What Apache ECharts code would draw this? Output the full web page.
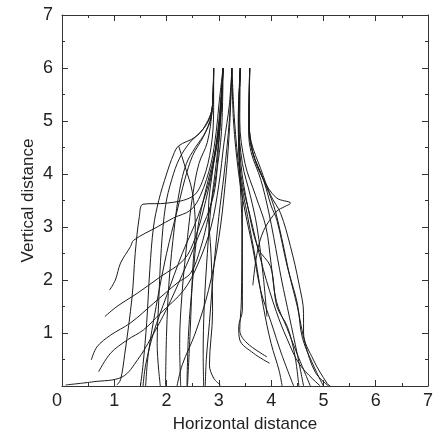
<!DOCTYPE html>
<html>
<head>
<meta charset="utf-8">
<script src="https://cdn.jsdelivr.net/npm/echarts@6/dist/echarts.min.js"></script>
<style>html,body{margin:0;padding:0;background:#fff}#c{width:435px;height:437px}</style>
</head>
<body>
<div id="c"></div>
<script>
// Axis settings (data units)
const xTicks = [0, 1, 2, 3, 4, 5, 6, 7];
const yTicks = [0, 1, 2, 3, 4, 5, 6, 7];
const xTitle = 'Horizontal distance';
const yTitle = 'Vertical distance';

// Traced curves: [horizontal, vertical] points
const c01 = [[3.08,6],[3.05,5.3],[3.0,4.6],[2.9,3.6],[2.6,2.8],[2.3,2.1],[2.0,1.45],[1.7,0.9],[1.45,0.5],[1.15,0.17],[0.6,0.08],[0.07,0.02]];
const c02 = [[3.08,6],[3.05,4.8],[2.95,4.0],[2.8,3.2],[2.65,2.6],[2.46,2.13],[2.2,1.94],[1.75,1.56],[1.31,1.19],[0.93,0.96],[0.67,0.74],[0.56,0.49]];
const c03 = [[3.25,6],[3.2,5.3],[3.1,4.6],[3.0,3.8],[2.85,3.0],[2.6,2.3],[2.33,1.81],[1.88,1.37],[1.56,1.06],[1.25,0.87],[0.93,0.62],[0.70,0.27]];
const c04 = [[3.08,6],[3.0,4.8],[2.9,4.2],[2.75,3.5],[2.55,2.8],[2.33,2.38],[1.88,2.06],[1.44,1.75],[1.05,1.50],[0.82,1.31]];
const c05 = [[3.08,6],[3.0,5.3],[2.95,4.8],[2.85,4.2],[2.65,3.6],[2.46,3.32],[2.13,3.17],[1.82,3.0],[1.37,2.75],[1.31,2.63],[1.12,2.32],[1.02,2.0],[0.91,1.81]];
const c06 = [[2.90,6],[2.9,5.2],[2.85,4.5],[2.7,3.9],[2.5,3.58],[2.0,3.45],[1.55,3.43],[1.48,3.2],[1.4,2.5],[1.34,1.68],[1.2,0.6],[1.12,0.12],[1.05,0.02]];
const c07 = [[2.90,6],[2.89,5.4],[2.8,5.0],[2.55,4.7],[2.23,4.53],[2.13,4.36],[2.0,4.0],[1.85,3.5],[1.75,3.0],[1.68,2.2],[1.62,1.2],[1.55,0.4],[1.5,0]];
const c08 = [[2.23,4.53],[2.35,4.15],[2.49,3.67],[2.55,3.0],[2.5,2.2],[2.45,1.0],[2.4,0]];
const c09 = [[2.90,6],[2.88,5.3],[2.7,4.85],[2.45,4.6],[2.25,4.3],[2.1,3.9],[1.98,3.4],[1.9,2.6],[1.85,1.6],[1.82,0.8],[1.88,0]];
const c10 = [[2.90,6],[2.87,5.2],[2.75,4.8],[2.55,4.5],[2.38,4.2],[2.25,3.7],[2.15,3.0],[2.05,2.0],[2.0,1.0],[1.98,0]];
const c11 = [[2.90,6],[2.87,5.2],[2.78,4.6],[2.62,4.2],[2.5,3.6],[2.4,2.8],[2.3,1.8],[2.25,0.8],[2.27,0]];
const c12 = [[3.08,6],[3.02,5.0],[2.9,4.3],[2.75,3.7],[2.6,3.0],[2.5,2.0],[2.42,1.0],[2.39,0]];
const c13 = [[3.08,6],[3.03,5.0],[2.95,4.2],[2.85,3.4],[2.78,2.5],[2.72,1.5],[2.7,0.6],[2.71,0]];
const c14 = [[3.08,6],[3.0,5.0],[2.9,4.2],[2.8,3.3],[2.85,2.5],[2.88,1.4],[2.82,0.4],[2.9,0.15],[3.03,0.02]];
const c15 = [[3.25,6],[3.2,5.0],[3.1,4.0],[3.0,3.2],[2.9,2.2],[2.82,1.2],[2.76,0.5],[2.74,0]];
const c16 = [[3.25,6],[3.2,4.8],[3.12,3.8],[3.0,2.8],[2.8,1.8],[2.55,1.0],[2.3,0.4],[2.2,0]];
const c17 = [[3.08,6],[3.0,4.9],[2.85,4.0],[2.6,3.2],[2.3,2.5],[2.0,1.7],[1.75,1.0],[1.6,0.4],[1.55,0]];
const c18 = [[2.90,6],[2.86,5.1],[2.7,4.7],[2.5,4.35],[2.35,3.9],[2.2,3.3],[2.0,2.5],[1.8,1.5],[1.65,0.6],[1.6,0]];
const r01 = [[3.41,6],[3.38,5.0],[3.4,4.0],[3.45,3.5],[3.45,2.5],[3.45,1.43],[3.38,1.12],[3.40,0.87],[3.66,0.62],[3.97,0.43]];
const r02 = [[3.41,6],[3.37,5.0],[3.4,4.0],[3.44,3.0],[3.43,1.6],[3.4,1.05],[3.54,0.81],[3.92,0.55]];
const r03 = [[3.41,6],[3.38,5.0],[3.45,4.2],[3.6,3.6],[3.73,3.0],[3.85,2.06],[3.92,1.31]];
const r04 = [[3.59,6],[3.58,5.0],[3.65,4.4],[3.85,3.9],[4.1,3.55],[4.37,3.45],[4.25,3.38],[4.11,3.3],[3.86,2.94],[3.73,2.5],[3.65,1.9]];
const r05 = [[3.59,6],[3.58,5.0],[3.62,4.6],[3.8,4.1],[3.99,3.6],[4.18,3.26],[4.37,2.63],[4.53,1.94],[4.62,1.37],[4.62,1.0],[4.81,0.49],[5.07,0.05],[5.13,0]];
const r06 = [[3.59,6],[3.57,4.9],[3.65,4.4],[3.85,3.9],[4.0,3.4],[4.11,3.13],[4.31,2.25],[4.5,1.56],[4.6,0.9],[4.85,0.3],[5.0,0]];
const r07 = [[3.59,6],[3.57,4.8],[3.62,4.4],[3.8,3.9],[3.95,3.3],[4.05,2.8],[4.2,2.0],[4.35,1.3],[4.5,0.6],[4.62,0]];
const r08 = [[3.41,6],[3.4,5.0],[3.5,4.2],[3.7,3.6],[3.9,3.0],[4.0,2.3],[4.1,1.6],[4.3,1.1],[4.5,0.6],[4.75,0]];
const r09 = [[3.41,6],[3.38,5.0],[3.42,4.2],[3.55,3.4],[3.75,2.6],[3.99,2.25],[4.11,1.5],[4.31,1.12],[4.45,0.6],[4.53,0]];
const r10 = [[3.25,6],[3.28,5.0],[3.38,4.0],[3.5,3.3],[3.65,2.6],[3.8,1.8],[4.0,1.2],[4.2,0.6],[4.43,0]];
const r11 = [[3.25,6],[3.3,5.0],[3.4,4.0],[3.55,3.2],[3.7,2.4],[3.85,1.5],[4.0,0.8],[4.15,0.3],[4.21,0]];
const r12 = [[3.59,6],[3.58,4.9],[3.65,4.4],[3.85,3.9],[4.05,3.4],[4.2,2.8],[4.35,2.1],[4.5,1.5],[4.65,0.8],[4.85,0.25],[5.1,0]];
const r13 = [[3.41,6],[3.38,5.0],[3.42,4.0],[3.6,3.2],[3.85,2.2],[4.1,1.4],[4.3,0.9],[4.55,0.4],[4.94,0]];

const curves = [c01,c02,c03,c04,c05,c06,c07,c08,c09,c10,c11,c12,c13,c14,c15,c16,c17,c18,
                r01,r02,r03,r04,r05,r06,r07,r08,r09,r10,r11,r12,r13];

const FONT = 'Liberation Sans, Arial, sans-serif';
const axisColor = '#333';

function axisBase(extra) {
  return Object.assign({
    type: 'value', min: xTicks[0], max: xTicks[xTicks.length - 1], interval: 1,
    nameMoveOverlap: false,
    axisLine: { show: true, onZero: false, lineStyle: { color: axisColor, width: 1 } },
    axisTick: { show: true, inside: true, length: 6, lineStyle: { color: axisColor } },
    minorTick: { show: true, splitNumber: 2, length: 3, lineStyle: { color: axisColor } },
    splitLine: { show: false }
  }, extra);
}

const chart = echarts.init(document.getElementById('c'), null, { renderer: 'canvas' });
chart.setOption({
  animation: false,
  grid: { left: 62, right: 7, top: 15, bottom: 51, containLabel: false, outerBoundsMode: 'none' },
  xAxis: [
    axisBase({
      position: 'bottom',
      name: xTitle, nameLocation: 'middle', nameGap: 30,
      nameTextStyle: { fontFamily: FONT, fontSize: 17, color: '#222' },
      axisLabel: { show: true, margin: 6, fontFamily: FONT, fontSize: 18, color: '#222', alignMinLabel: 'right' }
    }),
    axisBase({ position: 'top', axisLabel: { show: false } })
  ],
  yAxis: [
    axisBase({
      min: yTicks[0], max: yTicks[yTicks.length - 1],
      position: 'left',
      name: yTitle, nameLocation: 'middle', nameGap: 25,
      nameTextStyle: { fontFamily: FONT, fontSize: 17, color: '#222' },
      axisLabel: { show: true, margin: 9, fontFamily: FONT, fontSize: 18, color: '#222', showMinLabel: false }
    }),
    axisBase({ min: yTicks[0], max: yTicks[yTicks.length - 1], position: 'right', axisLabel: { show: false } })
  ],
  series: curves.map(d => ({
    type: 'line', data: d, xAxisIndex: 0, yAxisIndex: 0,
    showSymbol: false, smooth: 0.35, silent: true,
    lineStyle: { color: '#1c1c1c', width: 1 }
  }))
});
</script>
</body>
</html>
